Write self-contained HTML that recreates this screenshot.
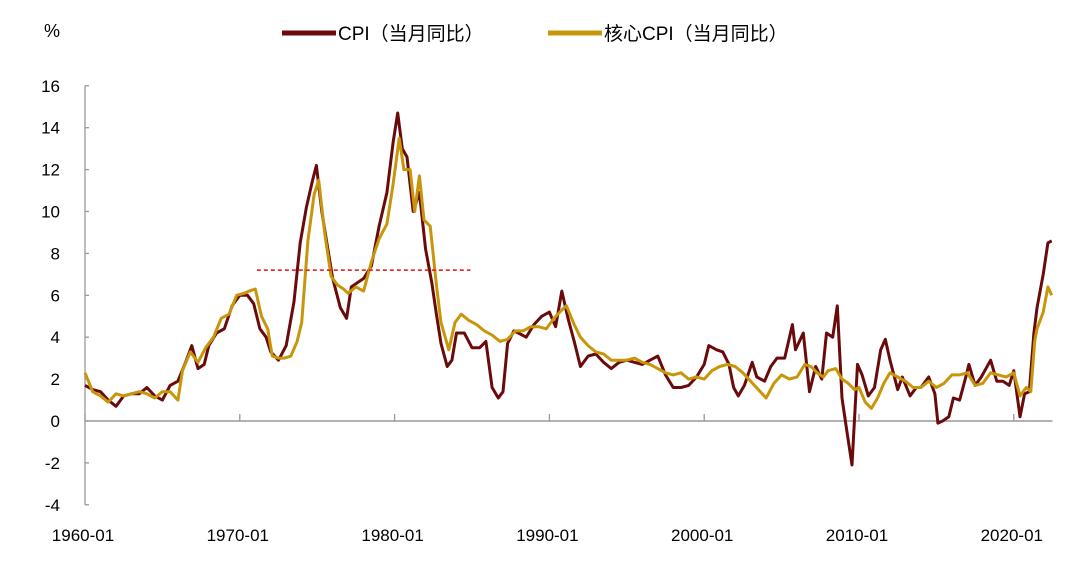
<!DOCTYPE html>
<html><head><meta charset="utf-8"><style>
html,body{margin:0;padding:0;background:#fff;width:1080px;height:572px;overflow:hidden}
svg text{font-family:"Liberation Sans","Noto Sans CJK SC",sans-serif;fill:#000}
</style></head><body>
<svg id="chart" width="1080" height="572" viewBox="0 0 1080 572" xmlns="http://www.w3.org/2000/svg">
<text x="44" y="37" font-size="18">%</text>
<g>
 <g>
  <line x1="282" y1="33" x2="336" y2="33" stroke="#6b0a0a" stroke-width="5"/>
  <text x="338" y="40" font-size="19">CPI（当月同比）</text>
 </g>
 <g>
  <line x1="548" y1="33" x2="602" y2="33" stroke="#c8960a" stroke-width="5"/>
  <text x="604" y="40" font-size="19">核心CPI（当月同比）</text>
 </g>
</g>
<g id="axes"></g>
<g id="series"></g>
</svg>
<script>
const yTicks=[16,14,12,10,8,6,4,2,0,-2,-4];
const xTickYears=[1960,1970,1980,1990,2000,2010,2020];
const xTickLabels=["1960-01","1970-01","1980-01","1990-01","2000-01","2010-01","2020-01"];
const cpiDates=[1960.0,1960.5,1961,1961.5,1962,1962.5,1963,1963.5,1964,1964.5,1965,1965.5,1966,1966.5,1966.9,1967.3,1967.7,1968,1968.5,1969,1969.5,1970,1970.5,1970.9,1971.3,1971.7,1972,1972.5,1973,1973.5,1973.9,1974.3,1974.7,1974.95,1975.3,1975.6,1976,1976.5,1976.9,1977.2,1977.6,1978,1978.5,1979,1979.5,1979.9,1980.2,1980.5,1980.8,1981.2,1981.6,1982,1982.4,1982.7,1983,1983.4,1983.7,1984,1984.5,1985,1985.5,1985.9,1986.3,1986.7,1987,1987.3,1987.7,1988,1988.5,1989,1989.5,1990,1990.4,1990.8,1991.2,1991.6,1992,1992.5,1993,1993.5,1994,1994.5,1995,1995.5,1996,1996.5,1997,1997.5,1998,1998.5,1999,1999.5,2000,2000.3,2000.8,2001.2,2001.6,2001.9,2002.2,2002.6,2003.1,2003.4,2003.9,2004.3,2004.7,2005.2,2005.7,2005.9,2006.4,2006.8,2007.2,2007.6,2007.9,2008.3,2008.6,2008.9,2009.2,2009.55,2009.9,2010.2,2010.6,2011.0,2011.4,2011.7,2012.0,2012.5,2012.8,2013.3,2013.7,2014.0,2014.5,2014.9,2015.1,2015.4,2015.8,2016.1,2016.5,2016.9,2017.1,2017.5,2017.9,2018.5,2018.9,2019.3,2019.7,2020.0,2020.4,2020.7,2021.0,2021.3,2021.5,2021.9,2022.2,2022.45];
const cpiValues=[1.7,1.5,1.4,1.0,0.7,1.2,1.3,1.3,1.6,1.2,1.0,1.7,1.9,2.8,3.6,2.5,2.7,3.6,4.2,4.4,5.5,6.0,6.0,5.6,4.4,4.0,3.3,2.9,3.6,5.7,8.5,10.2,11.5,12.2,10.0,8.6,6.8,5.4,4.9,6.4,6.6,6.8,7.4,9.3,10.9,13.3,14.7,13.0,12.6,10.0,10.9,8.2,6.6,5.1,3.7,2.6,2.9,4.2,4.2,3.5,3.5,3.8,1.6,1.1,1.4,3.7,4.3,4.2,4.0,4.6,5.0,5.2,4.5,6.2,4.9,3.8,2.6,3.1,3.2,2.8,2.5,2.8,2.9,2.8,2.7,2.9,3.1,2.2,1.6,1.6,1.7,2.1,2.7,3.6,3.4,3.3,2.7,1.6,1.2,1.7,2.8,2.1,1.9,2.6,3.0,3.0,4.6,3.4,4.2,1.4,2.6,2.0,4.2,4.0,5.5,1.1,-0.4,-2.1,2.7,2.2,1.2,1.6,3.4,3.9,2.9,1.5,2.1,1.2,1.6,1.6,2.1,1.3,-0.1,0.0,0.2,1.1,1.0,2.1,2.7,1.7,2.1,2.9,1.9,1.9,1.7,2.4,0.2,1.3,1.4,4.2,5.4,7.0,8.5,8.6];
const coreDates=[1960.0,1960.5,1961,1961.5,1962,1962.5,1963,1963.5,1964,1964.5,1965,1965.5,1966,1966.3,1966.8,1967.3,1967.8,1968.3,1968.8,1969.3,1969.8,1970.3,1970.6,1971.0,1971.4,1971.8,1972.1,1972.5,1972.9,1973.3,1973.7,1974.0,1974.4,1974.8,1975.1,1975.5,1975.9,1976.3,1976.7,1977.0,1977.5,1978.0,1978.5,1979.0,1979.5,1979.9,1980.3,1980.6,1981.0,1981.3,1981.6,1981.9,1982.3,1982.7,1983.0,1983.5,1983.9,1984.3,1984.8,1985.3,1985.8,1986.3,1986.8,1987.3,1987.8,1988.3,1988.8,1989.3,1989.8,1990.3,1990.8,1991.1,1991.6,1992.0,1992.5,1993.0,1993.5,1994.0,1994.5,1995.0,1995.5,1996.0,1996.5,1997.0,1997.5,1998.0,1998.5,1999.0,1999.5,2000.0,2000.5,2001.0,2001.5,2002.0,2002.5,2003.0,2003.5,2004.0,2004.5,2005.0,2005.5,2006.0,2006.5,2006.9,2007.3,2007.7,2008.0,2008.5,2008.9,2009.3,2009.7,2010.0,2010.4,2010.8,2011.2,2011.6,2012.0,2012.5,2013.0,2013.5,2014.0,2014.5,2015.0,2015.5,2016.0,2016.5,2017.0,2017.5,2018.0,2018.5,2019.0,2019.5,2020.0,2020.4,2020.8,2021.1,2021.35,2021.5,2021.9,2022.2,2022.45];
const coreValues=[2.3,1.4,1.2,0.9,1.3,1.2,1.3,1.4,1.3,1.1,1.4,1.4,1.0,2.4,3.3,2.8,3.5,4.0,4.9,5.1,6.0,6.1,6.2,6.3,5.0,4.4,3.1,3.0,3.0,3.1,3.8,4.7,8.6,10.8,11.5,8.9,6.9,6.5,6.3,6.1,6.4,6.2,7.6,8.7,9.4,11.3,13.5,12.0,12.0,10.0,11.7,9.6,9.3,6.5,4.7,3.4,4.7,5.1,4.8,4.6,4.3,4.1,3.8,3.9,4.3,4.3,4.5,4.5,4.4,4.9,5.3,5.5,4.6,4.0,3.6,3.3,3.2,2.9,2.9,2.9,3.0,2.8,2.7,2.5,2.3,2.2,2.3,2.0,2.1,2.0,2.4,2.6,2.7,2.6,2.3,1.9,1.5,1.1,1.8,2.2,2.0,2.1,2.7,2.6,2.3,2.1,2.4,2.5,2.0,1.8,1.5,1.6,0.9,0.6,1.1,1.8,2.3,2.1,1.9,1.6,1.6,1.9,1.6,1.8,2.2,2.2,2.3,1.7,1.8,2.3,2.2,2.1,2.3,1.2,1.6,1.4,3.8,4.4,5.2,6.4,6.0];
const refLine=[1971.1,1984.9,7.2];

const X0=85,PX_YEAR=15.48,Y0=421,PX_UNIT=20.95;
const xs=t=>X0+(t-1960)*PX_YEAR;
const ys=v=>Y0-v*PX_UNIT;
const NS="http://www.w3.org/2000/svg";
const axes=document.getElementById('axes');
const series=document.getElementById('series');
function mk(tag,attrs,parent){const e=document.createElementNS(NS,tag);for(const k in attrs)e.setAttribute(k,attrs[k]);parent.appendChild(e);return e;}

const yAxis=mk('line',{x1:X0,y1:ys(16),x2:X0,y2:ys(-4),stroke:'#999','stroke-width':1.3},axes);


yTicks.forEach(v=>{
 const tk=mk('line',{x1:X0,y1:ys(v),x2:X0+4,y2:ys(v),stroke:'#999','stroke-width':1.3},axes);
 
 
 const t=mk('text',{x:X0-25,y:ys(v)+6,'font-size':17,'text-anchor':'end'},axes);
 t.textContent=v;
 
 
});
const xAxis=mk('line',{x1:X0,y1:ys(0),x2:xs(2022.5),y2:ys(0),stroke:'#999','stroke-width':1.5},axes);


xTickYears.forEach((yr,i)=>{
 const tk=mk('line',{x1:xs(yr),y1:ys(0),x2:xs(yr),y2:ys(0)-7,stroke:'#999','stroke-width':1.3},axes);
 
 
 const t=mk('text',{x:xs(yr)-2,y:541,'font-size':17,'text-anchor':'middle'},axes);
 t.textContent=xTickLabels[i];
 
 
});
function path(d,v){return d.map((t,i)=>(i?'L':'M')+xs(t).toFixed(1)+','+ys(v[i]).toFixed(1)).join('');}
const cp=mk('path',{d:path(cpiDates,cpiValues),fill:'none',stroke:'#6b0a0a','stroke-width':3,'stroke-linejoin':'round'},series);


const co=mk('path',{d:path(coreDates,coreValues),fill:'none',stroke:'#c8960a','stroke-width':3,'stroke-linejoin':'round'},series);


const rl=mk('line',{x1:xs(refLine[0]),y1:ys(refLine[2]),x2:xs(refLine[1]),y2:ys(refLine[2]),stroke:'#e01010','stroke-width':1.5,'stroke-dasharray':'4,3'},series);


</script>
</body></html>
